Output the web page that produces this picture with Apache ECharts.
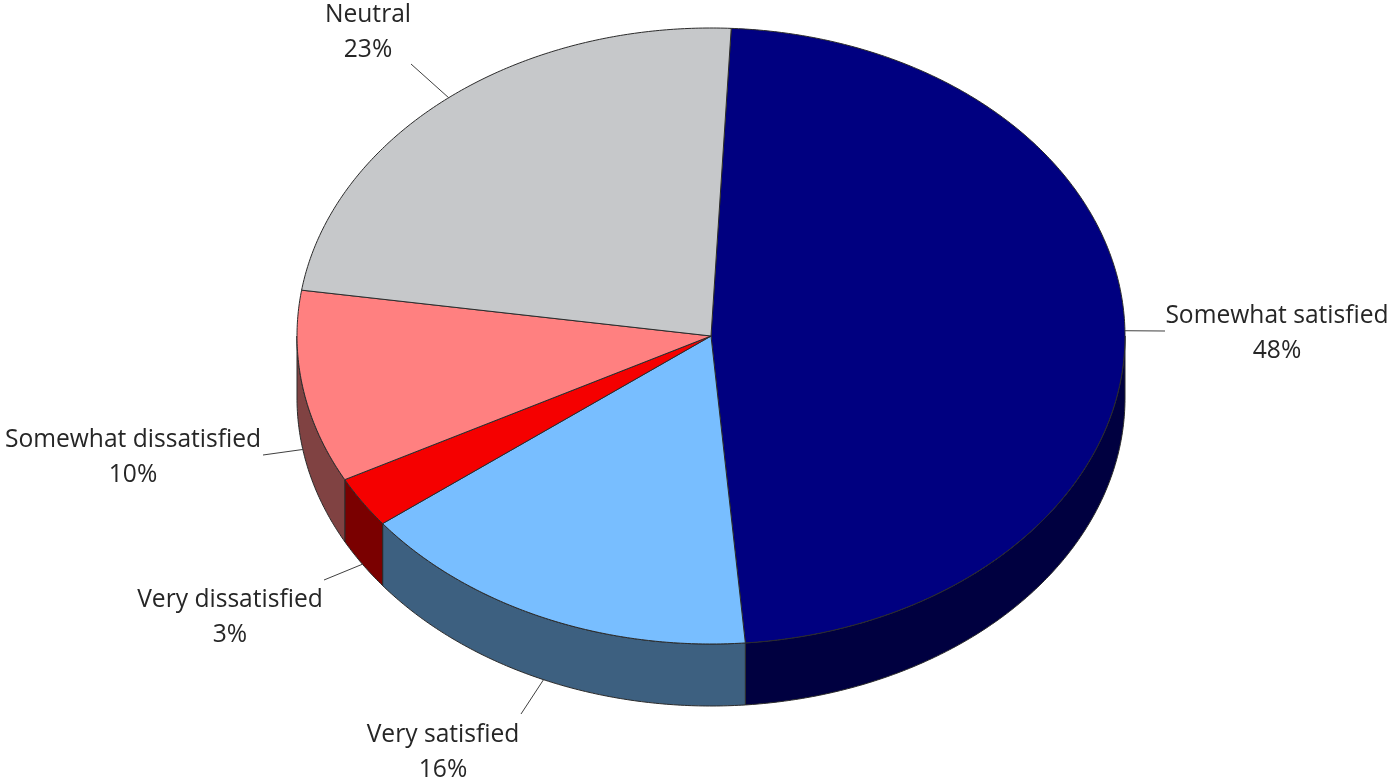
<!DOCTYPE html>
<html>
<head>
<meta charset="utf-8">
<style>html,body{margin:0;padding:0;background:#fff}#c{width:1389px;height:782px}</style>
<script src="https://cdn.jsdelivr.net/npm/echarts@6/dist/echarts.min.js"></script>
</head>
<body>
<div id="c"></div>
<script>
// Data (shares in %, labels show them rounded)
const categories = ['Somewhat satisfied', 'Very satisfied', 'Very dissatisfied', 'Somewhat dissatisfied', 'Neutral'];
const shares = [47.9, 15.9, 2.7, 10.1, 23.4];

// Styling and layout, separate from the data
const topColors = ['#000080', '#78BEFF', '#F50000', '#FF8080', '#C6C8CA'];
const wallColors = ['#000040', '#3D6080', '#7A0000', '#804242', '#63646A'];
const labelCentres = [[1277, 333], [443, 752], [230, 617], [133, 457], [368, 32]];
const leaderEnds = [[1165, 331], [521, 714], [324, 580], [263, 455], [411, 64]];
const startAngle = 2.8;   // degrees clockwise from 12 o'clock
const depth = 62;         // px height of the wall
const edge = '#2b2b2b';

const total = shares.reduce((a, b) => a + b, 0);
let cum = 0;
const rows = shares.map((v, i) => {
  const a0 = startAngle + cum / total * 360;
  cum += v;
  return [a0, startAngle + cum / total * 360, v, i];
});

function geom(api) {
  const c = api.coord([0, 0]);
  const s = api.size([1, 1]);
  return {
    cx: c[0], cy: c[1], rx: s[0], ry: s[1],
    pt(deg, dy) {
      const t = deg * Math.PI / 180;
      return [this.cx + this.rx * Math.sin(t), this.cy - this.ry * Math.cos(t) + (dy || 0)];
    }
  };
}
function arc(g, a0, a1, dy) {
  const n = Math.max(2, Math.ceil(Math.abs(a1 - a0) * 2));
  const out = [];
  for (let k = 0; k <= n; k++) out.push(g.pt(a0 + (a1 - a0) * k / n, dy));
  return out;
}

function renderWall(params, api) {
  const g = geom(api);
  const i = api.value(3);
  const a0 = Math.max(api.value(0), 90);
  const a1 = Math.min(api.value(1), 270);
  if (a1 <= a0) return null;
  const pts = arc(g, a0, a1, 0).concat(arc(g, a1, a0, depth));
  return { type: 'polygon', shape: { points: pts },
    style: { fill: wallColors[i], stroke: edge, lineWidth: 1, lineJoin: 'round' } };
}
function renderTop(params, api) {
  const g = geom(api);
  const i = api.value(3);
  const pts = [[g.cx, g.cy]].concat(arc(g, api.value(0), api.value(1), 0));
  return { type: 'polygon', shape: { points: pts },
    style: { fill: topColors[i], stroke: edge, lineWidth: 1, lineJoin: 'round' } };
}
function renderLabel(params, api) {
  const g = geom(api);
  const i = api.value(3);
  const mid = (api.value(0) + api.value(1)) / 2;
  const cosm = Math.cos(mid * Math.PI / 180);
  const rim = g.pt(mid, cosm < 0 ? depth : 0);
  return { type: 'group', children: [
    { type: 'line', shape: { x1: rim[0], y1: rim[1], x2: leaderEnds[i][0], y2: leaderEnds[i][1] },
      style: { stroke: '#404040', lineWidth: 1 } },
    { type: 'text', x: labelCentres[i][0], y: labelCentres[i][1],
      style: { text: categories[i] + '\n' + Math.round(api.value(2)) + '%',
        fill: '#262626', font: '400 24.6px "Open Sans", sans-serif',
        lineHeight: 35, align: 'center', verticalAlign: 'middle' } }
  ] };
}

const chart = echarts.init(document.getElementById('c'), null, { renderer: 'canvas' });
chart.setOption({
  animation: false,
  backgroundColor: '#ffffff',
  grid: { left: 297, top: 28, width: 828, height: 616, containLabel: false },
  xAxis: { type: 'value', min: -1, max: 1, show: false },
  yAxis: { type: 'value', min: -1, max: 1, show: false },
  series: [
    { name: 'walls', type: 'custom', renderItem: renderWall, data: rows, clip: false, z: 1, silent: true },
    { name: 'tops', type: 'custom', renderItem: renderTop, data: rows, clip: false, z: 2, silent: true },
    { name: 'labels', type: 'custom', renderItem: renderLabel, data: rows, clip: false, z: 3, silent: true }
  ]
});
</script>
</body>
</html>
